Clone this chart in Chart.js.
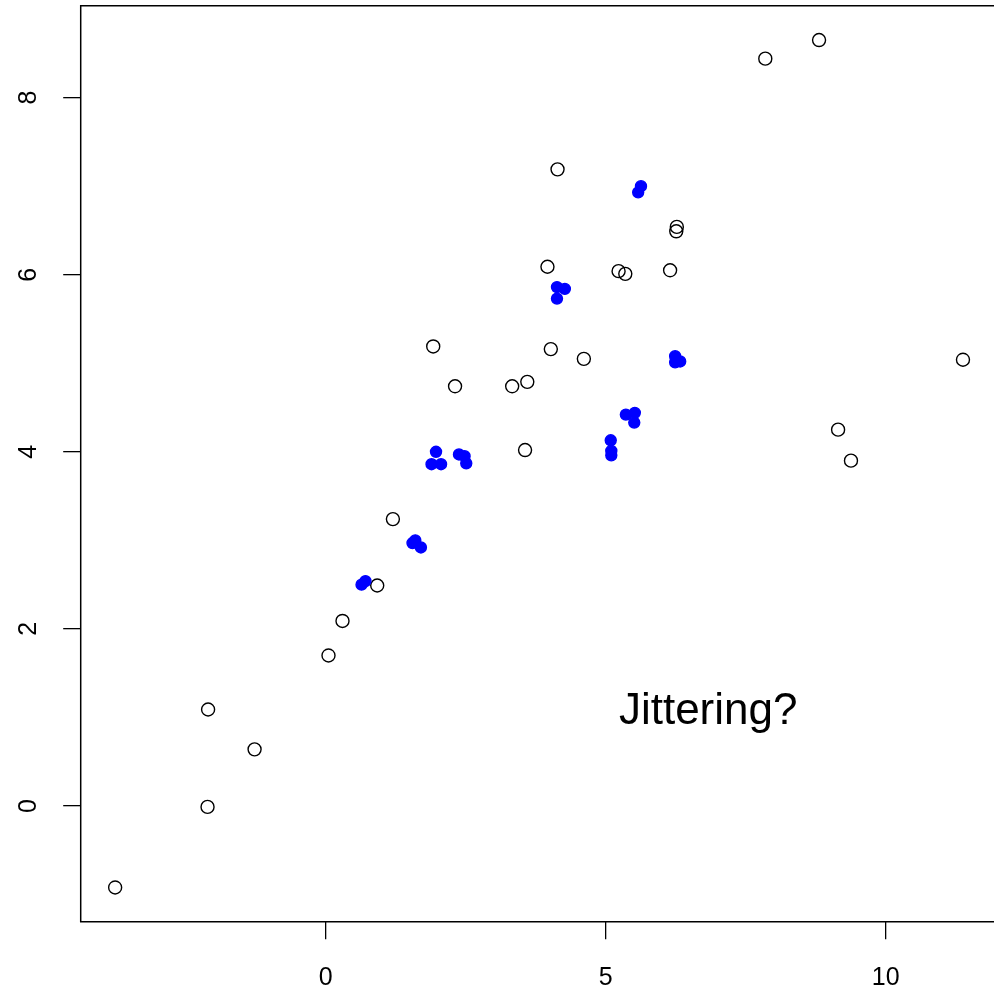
<!DOCTYPE html>
<html>
<head>
<meta charset="utf-8">
<script src="https://cdn.jsdelivr.net/npm/chart.js@4/dist/chart.umd.min.js"></script>
<style>
  html, body { margin: 0; padding: 0; background: #fff; overflow: hidden; }
  #wrap { width: 994px; height: 988px; }
</style>
</head>
<body>
<div id="wrap"><canvas id="plot" width="994" height="988"></canvas></div>
<script>
// open circles (raw data)
const rawX = [-3.76, -2.11, -2.10, -1.27, 0.05, 0.30, 0.92, 1.20, 1.92, 2.31, 3.33, 3.56, 3.60, 3.96, 4.02, 4.14, 4.61, 5.23, 5.35, 6.15, 6.27, 6.26, 7.85, 8.81, 9.15, 9.38, 11.38];
const rawY = [-0.92, -0.01, 1.09, 0.64, 1.70, 2.09, 2.49, 3.24, 5.19, 4.74, 4.74, 4.02, 4.79, 6.09, 5.16, 7.19, 5.05, 6.04, 6.01, 6.05, 6.54, 6.49, 8.44, 8.65, 4.25, 3.90, 5.04];

// filled blue points (jittered)
const jitX = [0.64, 0.71, 1.60, 1.70, 1.55, 1.97, 1.89, 2.06, 2.38, 2.48, 2.51, 5.09, 5.10, 5.10, 5.36, 5.52, 5.51, 5.63, 5.58, 4.13, 4.27, 4.13, 6.24, 6.33, 6.24];
const jitY = [2.50, 2.54, 3.00, 2.92, 2.97, 4.00, 3.86, 3.86, 3.97, 3.95, 3.87, 4.13, 4.01, 3.96, 4.42, 4.44, 4.33, 7.00, 6.93, 5.86, 5.84, 5.73, 5.08, 5.02, 5.01];

const xTicks = [0, 5, 10];
const yTicks = [0, 2, 4, 6, 8];

const noteText = "Jittering?";
const noteX = 6.83;
const noteY = 0.926;

const toPoints = (xs, ys) => xs.map((x, i) => ({ x: x, y: ys[i] }));

// no extra room for overflowing tick labels, the frame sits where R put it
const noPadding = (scale) => {
  scale.paddingTop = 0;
  scale.paddingBottom = 0;
  scale.paddingLeft = 0;
  scale.paddingRight = 0;
};

// box is cut off at the right edge of the window, so only three sides show
const frameAndNote = {
  id: "frameAndNote",
  afterDraw(chart) {
    const { ctx, chartArea, scales } = chart;
    const { left, top, right, bottom } = chartArea;
    ctx.save();
    ctx.strokeStyle = "#000";
    ctx.lineWidth = 1.5;
    ctx.beginPath();
    ctx.moveTo(right + 2, top);
    ctx.lineTo(left, top);
    ctx.lineTo(left, bottom);
    ctx.lineTo(right + 2, bottom);
    ctx.stroke();
    ctx.fillStyle = "#000";
    ctx.font = "44px 'Liberation Sans', Arial, sans-serif";
    ctx.textAlign = "center";
    ctx.textBaseline = "alphabetic";
    ctx.fillText(noteText, scales.x.getPixelForValue(noteX), scales.y.getPixelForValue(noteY));
    ctx.restore();
  },
};

const tickFont = { family: "'Liberation Sans', Arial, sans-serif", size: 25 };

new Chart(document.getElementById("plot").getContext("2d"), {
  type: "scatter",
  data: {
    datasets: [
      {
        data: toPoints(rawX, rawY),
        order: 2,
        pointStyle: "circle",
        pointRadius: 6.5,
        pointBorderWidth: 1.4,
        pointBorderColor: "#000",
        pointBackgroundColor: "rgba(0,0,0,0)",
      },
      {
        data: toPoints(jitX, jitY),
        order: 1,
        pointStyle: "circle",
        pointRadius: 5.5,
        pointBorderWidth: 1.4,
        pointBorderColor: "#0000ff",
        pointBackgroundColor: "#0000ff",
      },
    ],
  },
  plugins: [frameAndNote],
  options: {
    responsive: false,
    animation: false,
    devicePixelRatio: 1,
    layout: { autoPadding: false, padding: { top: 5.7, right: 0, left: 0, bottom: 0 } },
    plugins: {
      legend: { display: false },
      tooltip: { enabled: false },
    },
    scales: {
      x: {
        type: "linear",
        min: -4.375,
        max: 11.934,
        afterBuildTicks: (scale) => {
          scale.ticks = xTicks.map((v) => ({ value: v }));
        },
        afterFit: (scale) => {
          scale.height = 66.3;
          noPadding(scale);
        },
        border: { display: false },
        grid: {
          drawOnChartArea: false,
          drawTicks: true,
          tickLength: 17.6,
          tickColor: "#000",
          lineWidth: 1.3,
        },
        ticks: {
          color: "#000",
          font: tickFont,
          padding: 24,
          maxRotation: 0,
          autoSkip: false,
        },
      },
      y: {
        type: "linear",
        min: -1.3066,
        max: 9.038,
        afterBuildTicks: (scale) => {
          scale.ticks = yTicks.map((v) => ({ value: v }));
        },
        afterFit: (scale) => {
          scale.width = 80.7;
          noPadding(scale);
        },
        border: { display: false },
        grid: {
          drawOnChartArea: false,
          drawTicks: true,
          tickLength: 17.5,
          tickColor: "#000",
          lineWidth: 1.3,
        },
        ticks: {
          color: "#000",
          font: tickFont,
          padding: 27,
          minRotation: 90,
          maxRotation: 90,
          crossAlign: "center",
          autoSkip: false,
        },
      },
    },
  },
});
</script>
</body>
</html>
